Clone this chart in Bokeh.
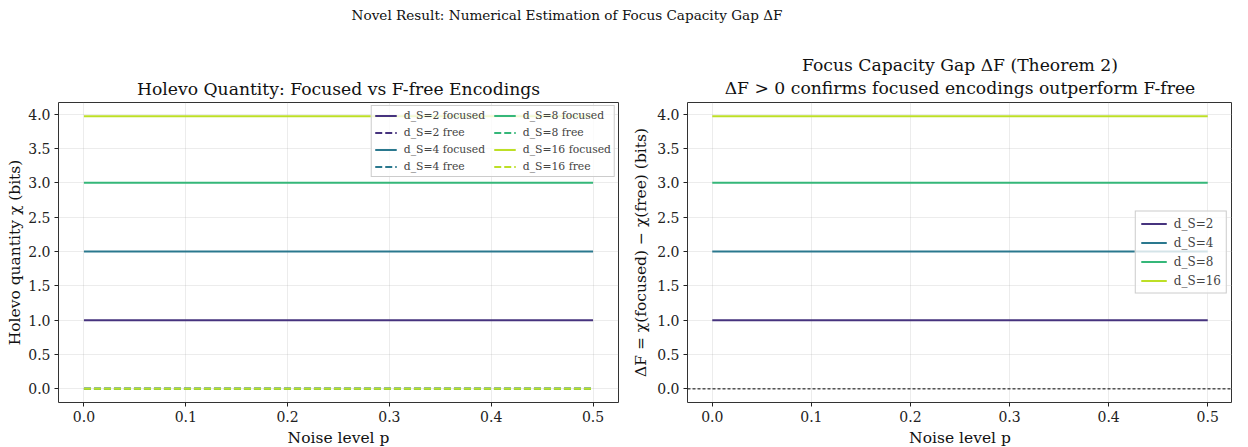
from bokeh.plotting import figure
from bokeh.models import Div, Legend, LegendItem, Span, FixedTicker, CustomJSTickFormatter, Title
from bokeh.layouts import column, row
from bokeh.embed import file_html
from bokeh.resources import INLINE

# ---- data ----
noise_p = [0.0, 0.1, 0.2, 0.3, 0.4, 0.5]
dims = ["2", "4", "8", "16"]
chi_focused_2 = [1.0, 1.0, 1.0, 1.0, 1.0, 1.0]
chi_focused_4 = [2.0, 2.0, 2.0, 2.0, 2.0, 2.0]
chi_focused_8 = [3.0, 3.0, 3.0, 3.0, 3.0, 3.0]
chi_focused_16 = [3.97, 3.97, 3.97, 3.97, 3.97, 3.97]
chi_free_2 = [0.0, 0.0, 0.0, 0.0, 0.0, 0.0]
chi_free_4 = [0.0, 0.0, 0.0, 0.0, 0.0, 0.0]
chi_free_8 = [0.0, 0.0, 0.0, 0.0, 0.0, 0.0]
chi_free_16 = [0.0, 0.0, 0.0, 0.0, 0.0, 0.0]
gap_2 = [1.0, 1.0, 1.0, 1.0, 1.0, 1.0]
gap_4 = [2.0, 2.0, 2.0, 2.0, 2.0, 2.0]
gap_8 = [3.0, 3.0, 3.0, 3.0, 3.0, 3.0]
gap_16 = [3.97, 3.97, 3.97, 3.97, 3.97, 3.97]
y_ticks = [0.0, 0.5, 1.0, 1.5, 2.0, 2.5, 3.0, 3.5, 4.0]
x_ticks = [0.0, 0.1, 0.2, 0.3, 0.4, 0.5]

colors = ["#46337e", "#2a788e", "#35b779", "#bddf26"]
focused = [chi_focused_2, chi_focused_4, chi_focused_8, chi_focused_16]
free = [chi_free_2, chi_free_4, chi_free_8, chi_free_16]
gaps = [gap_2, gap_4, gap_8, gap_16]

FONT = "DejaVu Serif"


def style(p, xlabel, ylabel):
    p.xaxis.ticker = FixedTicker(ticks=x_ticks)
    p.yaxis.ticker = FixedTicker(ticks=y_ticks)
    for ax in (p.xaxis[0], p.yaxis[0]):
        ax.axis_line_color = None
        ax.major_tick_line_color = "#222222"
        ax.major_tick_out = 4
        ax.major_tick_in = 0
        ax.minor_tick_line_color = None
        ax.major_label_text_font = FONT
        ax.major_label_text_font_size = "14px"
        ax.major_label_text_color = "#222222"
        ax.axis_label_text_font = FONT
        ax.axis_label_text_font_size = "15.5px"
        ax.axis_label_text_font_style = "normal"
        ax.axis_label_text_color = "#111111"
        ax.major_label_standoff = 4
        ax.axis_label_standoff = 4
    p.xaxis.axis_label = xlabel
    p.yaxis.axis_label = ylabel
    p.xaxis.formatter = CustomJSTickFormatter(code="return tick.toFixed(1);")
    p.yaxis.formatter = CustomJSTickFormatter(code="return tick.toFixed(1);")
    p.grid.grid_line_color = "#b0b0b0"
    p.grid.grid_line_alpha = 0.3
    p.grid.grid_line_width = 0.8
    p.outline_line_color = "#333333"
    p.outline_line_width = 1
    p.outline_line_alpha = 1


def title_style(t):
    t.text_font = FONT
    t.text_font_style = "normal"
    t.text_font_size = "17.2px"
    t.align = "center"
    t.text_color = "#111111"


# ---- left figure ----
left = figure(width=629, height=415, x_range=(-0.025, 0.525), y_range=(-0.1985, 4.1685),
              output_backend="svg", toolbar_location=None,
              title="Holevo Quantity: Focused vs F-free Encodings",
              min_border_left=58, min_border_right=11, min_border_top=68, min_border_bottom=46)
style(left, "Noise level p", "Holevo quantity χ (bits)")
left.yaxis.axis_label_standoff = 1
title_style(left.title)
left.title.standoff = 8

items = []
for d, c, yf, yfree in zip(dims, colors, focused, free):
    r1 = left.line(noise_p, yf, line_color=c, line_width=2)
    r2 = left.line(noise_p, yfree, line_color=c, line_width=2, line_dash="7 3")
    items.append(LegendItem(label=f"d_S={d} focused", renderers=[r1]))
    items.append(LegendItem(label=f"d_S={d} free", renderers=[r2]))

leg = Legend(items=items, location="top_right", ncols=2,
             label_text_font=FONT, label_text_font_size="10.8px",
             label_height=11, label_width=86, glyph_height=11, glyph_width=22, spacing=4,
             padding=3, margin=3, label_standoff=7,
             border_line_color="#cccccc", border_line_alpha=1,
             background_fill_alpha=0.8)
left.add_layout(leg)

# ---- right figure ----
right = figure(width=603, height=415, x_range=(-0.025, 0.525), y_range=(-0.1985, 4.1685),
               output_backend="svg", toolbar_location=None,
               min_border_left=58, min_border_right=0, min_border_top=68, min_border_bottom=46)
style(right, "Noise level p", "ΔF = χ(focused) − χ(free) (bits)")
t2 = Title(text="ΔF > 0 confirms focused encodings outperform F-free", standoff=10)
t1 = Title(text="Focus Capacity Gap ΔF (Theorem 2)", standoff=-9)
title_style(t2)
title_style(t1)
right.add_layout(t2, "above")
right.add_layout(t1, "above")

ritems = []
for d, c, g in zip(dims, colors, gaps):
    r = right.line(noise_p, g, line_color=c, line_width=2)
    ritems.append(LegendItem(label=f"d_S={d}", renderers=[r]))
right.add_layout(Span(location=0, dimension="width", line_color="black",
                      line_width=1, line_dash="3 2"))
rleg = Legend(items=ritems, location="right",
              label_text_font=FONT, label_text_font_size="12px",
              label_height=14, glyph_height=14, glyph_width=26, spacing=5,
              padding=5, margin=5, label_standoff=7,
              border_line_color="#cccccc", border_line_alpha=1,
              background_fill_alpha=0.8)
right.add_layout(rleg)

sup = Div(text="Novel Result: Numerical Estimation of Focus Capacity Gap ΔF",
          width=1124, height=24,
          styles={"font-family": FONT, "font-size": "13.6px", "text-align": "center",
                  "color": "#111111", "line-height": "20px"})

layout = column(sup, row(left, right))
open("out.html", "w").write(file_html(layout, INLINE))
